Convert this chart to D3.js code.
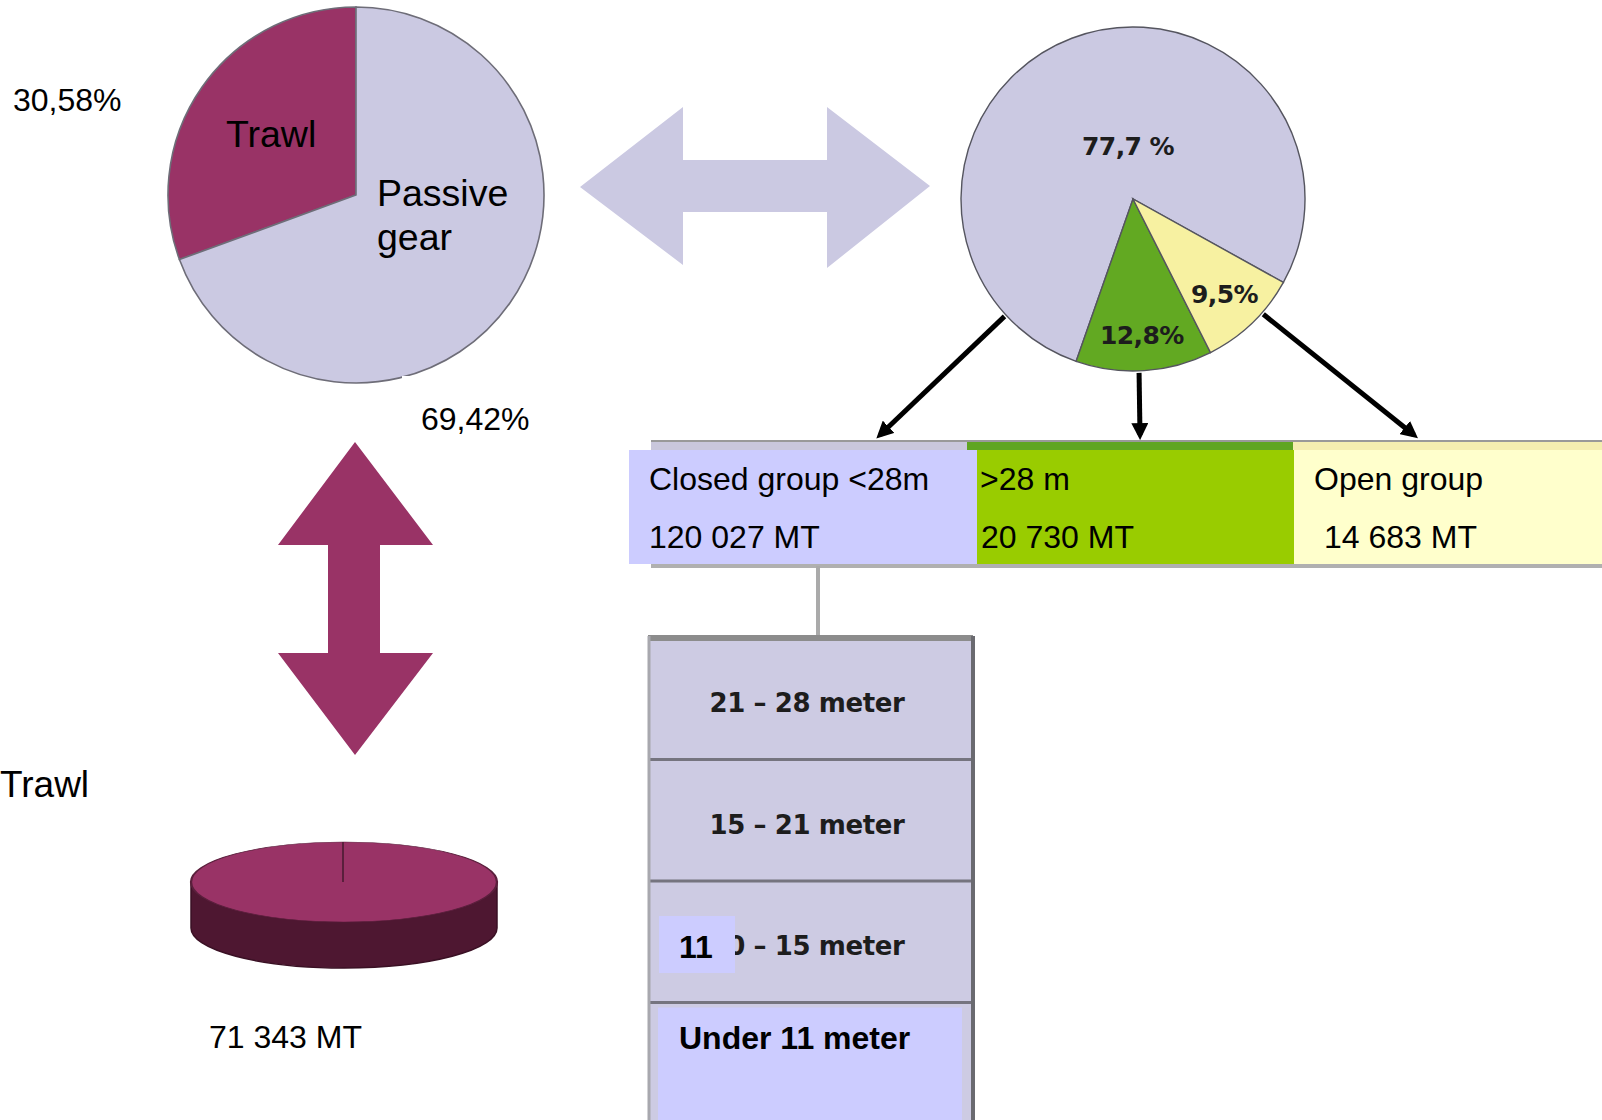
<!DOCTYPE html>
<html>
<head>
<meta charset="utf-8">
<script src="https://cdn.jsdelivr.net/npm/d3@7"></script>
<style>
  body { margin: 0; background: #fff; }
  svg { display: block; }
</style>
</head>
<body>
<div id="chart"></div>
<script>

// ---- data ----
var gearNames = ["Trawl", "Passive gear"];
var gearShares = [30.58, 69.42];
var gearShareLabels = ["30,58%", "69,42%"];

var groupNames = ["Closed group <28m", ">28 m", "Open group"];
var groupShares = [77.7, 12.8, 9.5];
var groupShareLabels = ["77,7 %", "12,8%", "9,5%"];
var groupTonnes = ["120 027 MT", "20 730 MT", "14 683 MT"];

var lengthBands = ["21 \u2013 28 meter", "15 \u2013 21 meter", "10 \u2013 15 meter", "Under 11 meter"];
var trawlTonnes = ["71 343 MT"];

// ---- page ----
var W = 1602, H = 1120;
var font = "'Liberation Sans', Arial, sans-serif";
var rasterFont = "'DejaVu Sans', sans-serif";
var rad = Math.PI / 180;

var svg = d3.select("#chart").append("svg")
    .attr("width", W)
    .attr("height", H);

var defs = svg.append("defs");
defs.append("marker")
    .attr("id", "head")
    .attr("viewBox", "0 0 10 10")
    .attr("refX", 7).attr("refY", 5)
    .attr("markerWidth", 3.4).attr("markerHeight", 3.4)
    .attr("orient", "auto")
  .append("path")
    .attr("d", "M0,0 L10,5 L0,10 z")
    .attr("fill", "#000");

/////////////////////////////// gear pie (left) ///////////////////////////////

var gearColor = d3.scaleOrdinal()
    .domain(gearNames)
    .range(["#993366", "#cbc9e2"]);

var a0 = 2 * Math.PI * gearShares[0] / d3.sum(gearShares);
var gearPie = d3.pie().sort(null).startAngle(-a0).endAngle(2 * Math.PI - a0);
var gearArc = d3.arc().innerRadius(0).outerRadius(188);

var g1 = svg.append("g").attr("transform", "translate(356,195)");
g1.selectAll("path")
  .data(gearPie(gearShares))
  .enter()
  .append("path")
    .attr("d", gearArc)
    .attr("fill", function (d, i) { return gearColor(gearNames[i]); })
    .attr("stroke", "#6e6d78")
    .attr("stroke-width", 1.6);

// labels inside the pie
var inner = [{x: 226, y: 147}, {x: 377, y: 206}];
gearNames.forEach(function (name, i) {
  var t = svg.append("text")
      .attr("x", inner[i].x).attr("y", inner[i].y)
      .style("font-family", font).style("font-size", "37.5px").attr("fill", "#000");
  name.split(" ").forEach(function (w, j) {
    t.append("tspan").attr("x", inner[i].x).attr("dy", j ? 44 : 0).text(w);
  });
});

// white label box covering the rim, then share labels
svg.append("rect").attr("x", 402).attr("y", 376).attr("width", 150).attr("height", 70).attr("fill", "#fff");
var outer = [{x: 13, y: 111}, {x: 421, y: 430}];
svg.selectAll(".gearShare")
  .data(gearShareLabels)
  .enter()
  .append("text")
    .attr("x", function (d, i) { return outer[i].x; })
    .attr("y", function (d, i) { return outer[i].y; })
    .style("font-family", font).style("font-size", "32px")
    .text(function (d) { return d; });

/////////////////////////////// big arrows ///////////////////////////////

var line = d3.line();
var hArrow = [[580,187],[683,107],[683,160],[827,160],[827,107],[930,186],[827,268],[827,212],[683,212],[683,265]];
svg.append("path").attr("d", line(hArrow) + "Z").attr("fill", "#cbc9e2");

var vArrow = [[355,442],[433,545],[380,545],[380,653],[433,653],[355,755],[278,653],[328,653],[328,545],[278,545]];
svg.append("path").attr("d", line(vArrow) + "Z").attr("fill", "#993366");

/////////////////////////////// group pie (right) ///////////////////////////////

var groupColor = d3.scaleOrdinal()
    .domain(groupNames)
    .range(["#cbc9e2", "#62a922", "#f7f1a1"]);

var drawOrder = [0, 2, 1];
var start = 199.3 * rad;
var groupPie = d3.pie()
    .value(function (i) { return groupShares[i]; })
    .sort(function (a, b) { return drawOrder.indexOf(a) - drawOrder.indexOf(b); })
    .startAngle(start).endAngle(start + 2 * Math.PI);
var groupArc = d3.arc().innerRadius(0).outerRadius(172);
var cx = 1133, cy = 199;

var g2 = svg.append("g").attr("transform", "translate(" + cx + "," + cy + ")");
var slices = groupPie([0, 1, 2]);
g2.selectAll("path")
  .data(slices)
  .enter()
  .append("path")
    .attr("d", groupArc)
    .attr("fill", function (d) { return groupColor(groupNames[d.data]); })
    .attr("stroke", "#55555f")
    .attr("stroke-width", 1.4);

var labelR = [0, 136, 132];
g2.selectAll("text")
  .data(slices)
  .enter()
  .append("text")
    .attr("transform", function (d) {
      if (d.data === 0) return "translate(-5,-53)";
      var c = d3.arc().innerRadius(labelR[d.data]).outerRadius(labelR[d.data]).centroid(d);
      return "translate(" + c[0] + "," + c[1] + ")";
    })
    .attr("dy", "0.36em")
    .attr("text-anchor", "middle")
    .style("font-family", rasterFont).style("font-size", "25px").style("font-weight", "bold")
    .style("letter-spacing", "-0.6px")
    .attr("fill", "#1d1d1d")
    .text(function (d) { return groupShareLabels[d.data]; });

// black arrows from the pie to the boxes
var arrows = [{a: 227.6, r: 174, x: 880}, {a: 178, r: 174, x: 1140}, {a: 131.5, r: 174, x: 1414}];
svg.selectAll(".ptr")
  .data(arrows)
  .enter()
  .append("line")
    .attr("x1", function (d) { return cx + d.r * Math.sin(d.a * rad); })
    .attr("y1", function (d) { return cy - d.r * Math.cos(d.a * rad); })
    .attr("x2", function (d) { return d.x; })
    .attr("y2", 435)
    .attr("stroke", "#000")
    .attr("stroke-width", 5)
    .attr("marker-end", "url(#head)");

/////////////////////////////// group boxes ///////////////////////////////

var boxLeft = d3.scaleOrdinal().domain(groupNames).range([629, 977, 1294]);
var boxRight = d3.scaleOrdinal().domain(groupNames).range([977, 1294, 1602]);
var stripLeft = d3.scaleOrdinal().domain(groupNames).range([651, 967, 1293]);
var stripRight = d3.scaleOrdinal().domain(groupNames).range([967, 1293, 1602]);
var stripColor = d3.scaleOrdinal().domain(groupNames).range(["#c9c7dc", "#5fa521", "#f4eeb0"]);
var boxColor = d3.scaleOrdinal().domain(groupNames).range(["#ccccff", "#99cc00", "#ffffcc"]);

// shadow and strips of the background picture
svg.append("rect").attr("x", 651).attr("y", 562).attr("width", W - 651).attr("height", 6).attr("fill", "#b0b0b0");
svg.append("rect").attr("x", 651).attr("y", 440).attr("width", W - 651).attr("height", 3).attr("fill", "#999");
svg.selectAll(".strip")
  .data(groupNames)
  .enter()
  .append("rect")
    .attr("x", function (d) { return stripLeft(d); })
    .attr("y", 442)
    .attr("width", function (d) { return stripRight(d) - stripLeft(d); })
    .attr("height", 8)
    .attr("fill", function (d) { return stripColor(d); });

svg.selectAll(".box")
  .data(groupNames)
  .enter()
  .append("rect")
    .attr("x", function (d) { return boxLeft(d); })
    .attr("y", 450)
    .attr("width", function (d) { return boxRight(d) - boxLeft(d); })
    .attr("height", 114)
    .attr("fill", function (d) { return boxColor(d); });

var textPad = [20, 3, 20];
var tonPad = [20, 4, 30];
groupNames.forEach(function (name, i) {
  svg.append("text")
      .attr("x", boxLeft(name) + textPad[i]).attr("y", 490)
      .style("font-family", font).style("font-size", "32px")
      .text(name);
  svg.append("text")
      .attr("x", boxLeft(name) + tonPad[i]).attr("y", 548)
      .style("font-family", font).style("font-size", "32px")
      .text(groupTonnes[i]);
});

/////////////////////////////// length stack ///////////////////////////////

var rowY = d3.scaleBand().domain(lengthBands).range([638, 1124]);
var stackL = 648, stackR = 973;

svg.append("line").attr("x1", 818).attr("x2", 818).attr("y1", 566).attr("y2", 636)
    .attr("stroke", "#aaa").attr("stroke-width", 4);

svg.selectAll(".row")
  .data(lengthBands)
  .enter()
  .append("rect")
    .attr("x", stackL)
    .attr("y", function (d) { return rowY(d); })
    .attr("width", stackR - stackL)
    .attr("height", rowY.bandwidth())
    .attr("fill", "#cdcbe3");

svg.selectAll(".sep")
  .data(lengthBands)
  .enter()
  .append("line")
    .attr("x1", stackL).attr("x2", stackR)
    .attr("y1", function (d) { return rowY(d); })
    .attr("y2", function (d) { return rowY(d); })
    .attr("stroke", function (d, i) { return i ? "#75747f" : "#8c8c8c"; })
    .attr("stroke-width", function (d, i) { return i ? 3 : 6; });

svg.append("line").attr("x1", stackL + 1).attr("x2", stackL + 1).attr("y1", 636).attr("y2", H)
    .attr("stroke", "#a8a8ae").attr("stroke-width", 3);
svg.append("line").attr("x1", stackR).attr("x2", stackR).attr("y1", 636).attr("y2", H)
    .attr("stroke", "#6a6a70").attr("stroke-width", 4);

// band labels of the background picture (last one is an overlay box)
svg.selectAll(".band")
  .data(lengthBands.slice(0, 3))
  .enter()
  .append("text")
    .attr("x", 807)
    .attr("y", function (d) { return rowY(d) + 74; })
    .attr("text-anchor", "middle")
    .style("font-family", rasterFont).style("font-size", "26px").style("font-weight", "bold")
    .style("letter-spacing", "-0.4px")
    .attr("fill", "#1d1d1d")
    .text(function (d) { return d; });

// "11" patch over the third row
var r3 = rowY(lengthBands[2]);
svg.append("rect").attr("x", 659).attr("y", r3 + 35).attr("width", 76).attr("height", 57).attr("fill", "#ccccff");
svg.append("text").attr("x", 679).attr("y", r3 + 77)
    .style("font-family", font).style("font-size", "32px").style("font-weight", "bold")
    .text("11");

var r4 = rowY(lengthBands[3]);
svg.append("rect").attr("x", 658).attr("y", r4 + 5).attr("width", 304).attr("height", H - r4 - 5).attr("fill", "#ccccff");
svg.append("text").attr("x", 679).attr("y", r4 + 46)
    .style("font-family", font).style("font-size", "32px").style("font-weight", "bold")
    .text(lengthBands[3]);

/////////////////////////////// trawl 3d pie ///////////////////////////////

var ex = 344, ey = 882, rx = 153, ry = 40, depth = 46;
svg.append("path")
    .attr("d", "M" + (ex - rx) + "," + ey + " L" + (ex - rx) + "," + (ey + depth) +
      " A" + rx + "," + ry + " 0 0 0 " + (ex + rx) + "," + (ey + depth) +
      " L" + (ex + rx) + "," + ey + " Z")
    .attr("fill", "#4e1731")
    .attr("stroke", "#3a1024").attr("stroke-width", 1.5);

var trawlPie = d3.pie().sort(null)([1]);
var flat = d3.arc().innerRadius(0).outerRadius(1);
svg.append("g")
    .attr("transform", "translate(" + ex + "," + ey + ") scale(" + rx + "," + ry + ")")
  .append("path")
    .attr("d", flat(trawlPie[0]))
    .attr("fill", "#993366")
    .attr("stroke", "#5a1f3c")
    .attr("stroke-width", 0.015);
svg.append("line")
    .attr("x1", ex - 1).attr("x2", ex - 1)
    .attr("y1", ey - ry).attr("y2", ey)
    .attr("stroke", "#5a1f3c").attr("stroke-width", 2);

svg.append("text").attr("x", 0).attr("y", 797)
    .style("font-family", font).style("font-size", "37px")
    .text(gearNames[0]);
svg.append("text").attr("x", 209).attr("y", 1048)
    .style("font-family", font).style("font-size", "32px")
    .text(trawlTonnes[0]);

</script>
</body>
</html>
